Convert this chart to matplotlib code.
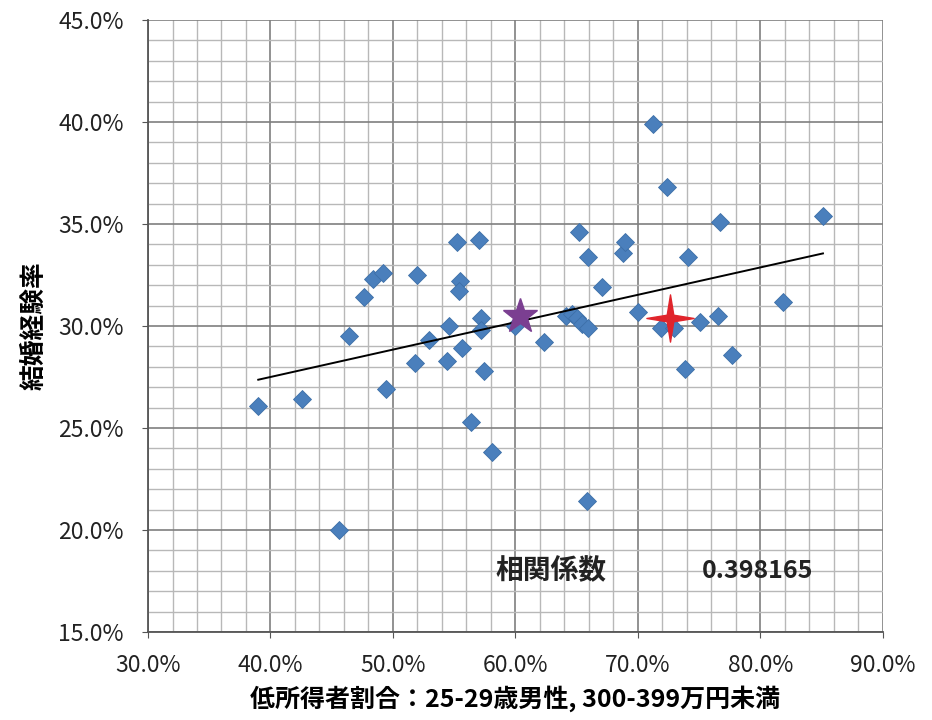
import numpy as np
import matplotlib.pyplot as plt
from matplotlib.path import Path
from matplotlib.ticker import MultipleLocator, PercentFormatter

plt.rcParams['font.family'] = ['Noto Sans CJK JP', 'DejaVu Sans']

# low-income share (%) and marriage experience rate (%) by prefecture
low_income = [39.0, 42.6, 45.6, 46.4, 47.6, 48.4, 49.2, 49.4, 51.8, 52.0,
              52.9, 54.4, 54.6, 55.2, 55.5, 55.4, 55.6, 56.4, 57.0, 57.2,
              57.2, 57.4, 58.1, 60.0, 62.3, 64.1, 64.6, 65.0, 65.4, 65.9,
              65.2, 65.9, 67.1, 68.8, 68.9, 70.0, 71.9, 72.9, 71.2, 72.4,
              74.1, 75.1, 76.5, 73.8, 77.7, 76.7, 81.8, 85.1, 65.8]
married = [26.1, 26.4, 20.0, 29.5, 31.4, 32.3, 32.6, 26.9, 28.2, 32.5,
           29.3, 28.3, 30.0, 34.1, 32.2, 31.7, 28.9, 25.3, 34.2, 30.4,
           29.8, 27.8, 23.8, 30.0, 29.2, 30.5, 30.6, 30.4, 30.1, 29.9,
           34.6, 33.4, 31.9, 33.6, 34.1, 30.7, 29.9, 29.9, 39.9, 36.8,
           33.4, 30.2, 30.5, 27.9, 28.6, 35.1, 31.2, 35.4, 21.4]

national = (60.4, 30.5)      # purple star
highlight = (72.6, 30.4)     # red four-point star
corr_label = "相関係数"
corr_value = "0.398165"

fig = plt.figure(figsize=(9.32, 7.2), dpi=100)
ax = fig.add_axes([0.1588, 0.1222, 0.7886, 0.85])

x = np.array(low_income) / 100
y = np.array(married) / 100

ax.plot(x, y, 'D', color='#4a7fbc', ms=9.5, mec='#3d6fa8', mew=0.6, zorder=3)

# linear trend line over the data range
slope, intercept = np.polyfit(x, y, 1)
xs = np.array([x.min(), x.max()])
ax.plot(xs, slope * xs + intercept, color='black', lw=1.4, zorder=4)

ax.plot(national[0] / 100, national[1] / 100, '*', color='#7b3f91', ms=26, zorder=5)

verts = [(0, 1), (0.14, 0.14), (1, 0), (0.14, -0.14), (0, -1), (-0.14, -0.14),
         (-1, 0), (-0.14, 0.14), (0, 1)]
star4 = Path(verts, [Path.MOVETO] + [Path.LINETO] * 7 + [Path.CLOSEPOLY])
ax.plot(highlight[0] / 100, highlight[1] / 100, marker=star4, color='#e0242b',
        ms=34, zorder=5)

ax.set_xlim(0.30, 0.90)
ax.set_ylim(0.15, 0.45)
ax.xaxis.set_major_locator(MultipleLocator(0.10))
ax.xaxis.set_minor_locator(MultipleLocator(0.02))
ax.yaxis.set_major_locator(MultipleLocator(0.05))
ax.yaxis.set_minor_locator(MultipleLocator(0.01))
ax.xaxis.set_major_formatter(PercentFormatter(1.0, decimals=1))
ax.yaxis.set_major_formatter(PercentFormatter(1.0, decimals=1))

ax.grid(which='major', color='#7f7f7f', lw=1.2)
ax.grid(which='minor', color='#b8b8b8', lw=1.0)
ax.set_axisbelow(True)
for side in ['top', 'right']:
    ax.spines[side].set_visible(False)
ax.spines['left'].set_color('#555555')
ax.spines['bottom'].set_color('#555555')
ax.spines['left'].set_linewidth(1.3)
ax.spines['bottom'].set_linewidth(1.3)

ax.tick_params(which='major', length=4.5, color='#555555', labelsize=16.5,
               labelcolor='#222222')
ax.tick_params(axis='y', pad=13)
ax.tick_params(axis='x', pad=11)
ax.tick_params(which='minor', length=0)

ax.set_xlabel("低所得者割合：25-29歳男性, 300-399万円未満", fontsize=18,
              fontweight='bold', labelpad=6)
ax.set_ylabel("結婚経験率", fontsize=18.5, fontweight='bold', labelpad=8)

ax.text(0.629, 0.180, corr_label, fontsize=20, fontweight='bold',
        ha='center', va='center', color='#222222')
ax.text(0.752, 0.180, corr_value, fontsize=18, fontweight='bold',
        ha='left', va='center', color='#222222')

fig.savefig("out.png", dpi=100)
